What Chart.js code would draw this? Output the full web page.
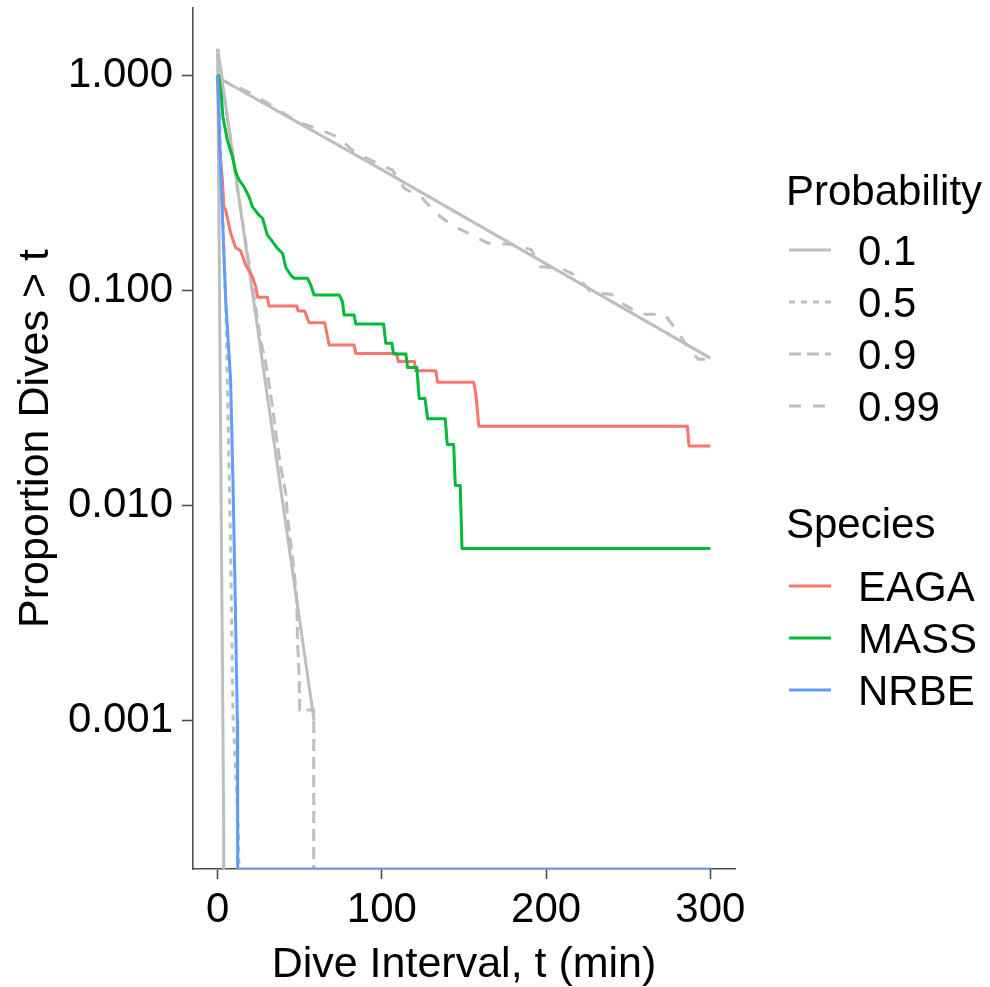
<!DOCTYPE html>
<html lang="en">
<head>
<meta charset="UTF-8" />
<title>Proportion Dives &gt; t</title>
<script src="https://cdn.jsdelivr.net/npm/chart.js@4.4.1/dist/chart.umd.min.js"></script>
<style>
  html, body { margin: 0; padding: 0; background: #fff; }
</style>
</head>
<body>
<canvas id="dives" width="990" height="987"></canvas>
<script>
  // axis ticks
  const xTicks = [0, 100, 200, 300];
  const yTicks = [0.001, 0.01, 0.1, 1];
  const yTickLabels = ['0.001', '0.010', '0.100', '1.000'];

  // legend entries
  const probLabels = ['0.1', '0.5', '0.9', '0.99'];
  const speciesLabels = ['EAGA', 'MASS', 'NRBE'];

  // observed survivorship, [t (min), proportion > t]; 0 = no dives left
  const eaga = [[0, 1], [1.2, 0.45], [2.9, 0.327], [3.8, 0.245], [4.9, 0.237], [7.9, 0.185],
    [11, 0.158], [14, 0.153], [17.1, 0.131], [18.9, 0.125], [21.2, 0.116], [23.2, 0.104],
    [24.4, 0.093], [30.3, 0.093], [31.3, 0.0848], [48.2, 0.0848], [49, 0.0803], [53, 0.0803],
    [55.7, 0.0708], [65.2, 0.0708], [67.9, 0.0558], [83.1, 0.0558], [84.1, 0.051],
    [109, 0.051], [110, 0.0467], [119.7, 0.0467], [120.7, 0.0424], [132.9, 0.0424],
    [133.9, 0.0374], [155.9, 0.0374], [157.3, 0.0327], [159, 0.0234], [286, 0.0234],
    [287, 0.0189], [300, 0.0189]];
  const mass = [[0, 1], [0.6, 1], [2.3, 0.797], [3.2, 0.643], [5.9, 0.501], [9, 0.419],
    [11, 0.356], [13, 0.327], [16, 0.304], [19.1, 0.273], [21.2, 0.245], [25.2, 0.224],
    [27.3, 0.217], [30.3, 0.181], [33.4, 0.169], [36.4, 0.157], [39.5, 0.149], [41.5, 0.128],
    [44.5, 0.118], [46.5, 0.114], [54.7, 0.114], [56.7, 0.106], [58.7, 0.0953], [74, 0.0953],
    [76, 0.0887], [77, 0.0769], [83.1, 0.0769], [84.1, 0.0699], [101, 0.0699], [102.4, 0.0568],
    [106.1, 0.0568], [107.1, 0.0507], [114.6, 0.0507], [115.7, 0.0438], [121.3, 0.0438],
    [122.7, 0.0315], [126.2, 0.0315], [127.9, 0.0253], [138.6, 0.0253], [139.8, 0.0192],
    [143.7, 0.0192], [144.7, 0.0124], [147.7, 0.0124], [148.8, 0.00632], [300, 0.00632]];
  const nrbe = [[0, 1], [0.8, 0.7], [1.5, 0.427], [4.9, 0.09], [7.9, 0.0383], [9.3, 0.0132],
    [10.5, 0.0045], [12, 0.001], [12.2, 0.00031], [12.2, 0], [300, 0]];

  // reference curves (grey)
  const p01Slow = [[0, 1.33], [2.9, 0.953], [99.4, 0.367], [300, 0.0485]];
  const p01Mid = [[0, 1.33], [20.1, 0.112], [58.7, 0.001]];
  const p01Fast = [[0, 1.33], [3.7, 0.00031], [3.7, 0]];
  const p05Fast = [[0, 1.25], [1.8, 0.45], [4.9, 0.09], [5.9, 0.038], [7.9, 0.0064],
    [9.3, 0.00108], [12.6, 0.00031], [13, 0]];
  const p09Mid = [[0, 1], [4, 0.8], [8, 0.5], [12, 0.3], [16, 0.19], [20.1, 0.12],
    [26.2, 0.0589], [29.3, 0.046], [33.4, 0.0288], [35.4, 0.0217], [38.4, 0.0151],
    [41.5, 0.0114], [42.5, 0.00887], [44.5, 0.00667], [46.5, 0.005], [48.2, 0.00363],
    [48.6, 0.00237], [49.6, 0.00166], [50, 0.00112], [58.5, 0.00112], [58.5, 0]];
  const p099Slow = [[0, 0.97], [2.9, 0.95], [14, 0.872], [24.2, 0.797], [35.4, 0.704],
    [48.6, 0.61], [59.8, 0.568], [73, 0.519], [83.1, 0.442], [95.3, 0.397], [106.5, 0.363],
    [113.6, 0.299], [124.8, 0.268], [132.9, 0.229], [143.1, 0.2], [154.3, 0.182],
    [164.5, 0.166], [178.7, 0.164], [190.9, 0.155], [196.5, 0.129], [209.1, 0.127],
    [219.3, 0.116], [227.4, 0.0977], [239.6, 0.096], [247.7, 0.0857], [257.9, 0.0775],
    [272.1, 0.0775], [279.3, 0.0655], [286, 0.0548], [292.5, 0.0479], [300, 0.0479]];

  const Y_MIN = 2.04e-4;
  const Y_MAX = 2.06;
  const FONT = '"Liberation Sans", Arial, sans-serif';
  const GREY = '#bebebe';
  const AXIS = '#4d4d4d';
  const LW = 3;
  const colors = ['#F8766D', '#00BA38', '#619CFF'];
  const dashes = [[], [6, 6], [12, 6], [12, 12]];

  // log scale cannot show 0, ggplot puts it on the panel edge
  const pts = arr => arr.map(p => ({ x: p[0], y: p[1] > 0 ? p[1] : Y_MIN }));

  function series(data, color, dash) {
    return {
      data: pts(data),
      borderColor: color,
      borderWidth: LW,
      borderDash: dash,
      borderJoinStyle: 'round',
      pointRadius: 0,
      tension: 0,
      fill: false
    };
  }

  const legendPlugin = {
    id: 'twoLegends',
    afterDraw(chart) {
      const ctx = chart.ctx;
      ctx.save();
      ctx.font = '42px ' + FONT;
      ctx.fillStyle = '#000';
      ctx.textBaseline = 'alphabetic';
      ctx.lineWidth = LW;

      ctx.fillText('Probability', 786, 205);
      probLabels.forEach((lab, i) => {
        const y = 250 + i * 52;
        ctx.strokeStyle = GREY;
        ctx.setLineDash(dashes[i]);
        ctx.beginPath();
        ctx.moveTo(789, y);
        ctx.lineTo(831, y);
        ctx.stroke();
        ctx.setLineDash([]);
        ctx.fillText(lab, 858, y + 15);
      });

      ctx.fillText('Species', 786, 538);
      speciesLabels.forEach((lab, i) => {
        const y = 586 + i * 52;
        ctx.strokeStyle = colors[i];
        ctx.beginPath();
        ctx.moveTo(789, y);
        ctx.lineTo(831, y);
        ctx.stroke();
        ctx.fillText(lab, 858, y + 15);
      });
      ctx.restore();
    }
  };

  const ch = new Chart(document.getElementById('dives'), {
    type: 'line',
    data: {
      datasets: [
        series(nrbe, colors[2], []),
        series(mass, colors[1], []),
        series(eaga, colors[0], []),
        series(p01Slow, GREY, dashes[0]),
        series(p01Mid, GREY, dashes[0]),
        series(p01Fast, GREY, dashes[0]),
        series(p05Fast, GREY, dashes[1]),
        series(p09Mid, GREY, dashes[2]),
        series(p099Slow, GREY, dashes[3])
      ]
    },
    options: {
      responsive: false,
      animation: false,
      events: [],
      layout: { padding: { top: 8, right: 255, left: 0, bottom: 0 } },
      plugins: { legend: { display: false }, tooltip: { enabled: false } },
      scales: {
        x: {
          type: 'linear',
          min: -15,
          max: 315,
          afterBuildTicks: s => { s.ticks = xTicks.map(v => ({ value: v })); },
          afterFit: s => { s.height = 118; s.paddingLeft = 0; s.paddingRight = 0; },
          grid: { drawOnChartArea: false, drawTicks: true, tickLength: 10, tickColor: AXIS, tickWidth: 1.6 },
          border: { display: true, color: AXIS, width: 1.6 },
          ticks: {
            color: '#000', font: { family: FONT, size: 42 }, padding: 6,
            maxRotation: 0, autoSkip: false, callback: v => String(v)
          },
          title: {
            display: true, text: 'Dive Interval, t (min)', color: '#000',
            font: { family: FONT, size: 43, lineHeight: 1 }, padding: { top: 0, bottom: 0 }
          }
        },
        y: {
          type: 'logarithmic',
          min: Y_MIN,
          max: Y_MAX,
          afterBuildTicks: s => { s.ticks = yTicks.map(v => ({ value: v })); },
          afterFit: s => { s.width = 193; s.paddingTop = 0; s.paddingBottom = 0; },
          grid: { drawOnChartArea: false, drawTicks: true, tickLength: 11, tickColor: AXIS, tickWidth: 1.6 },
          border: { display: true, color: AXIS, width: 1.6 },
          ticks: {
            color: '#000', font: { family: FONT, size: 42 }, padding: 9,
            autoSkip: false, callback: (v, i) => yTickLabels[i]
          },
          title: {
            display: true, text: 'Proportion Dives > t', color: '#000',
            font: { family: FONT, size: 43, lineHeight: 1 }, padding: { top: 14.5, bottom: 0 }
          }
        }
      }
    },
    plugins: [legendPlugin]
  });
</script>
</body>
</html>
